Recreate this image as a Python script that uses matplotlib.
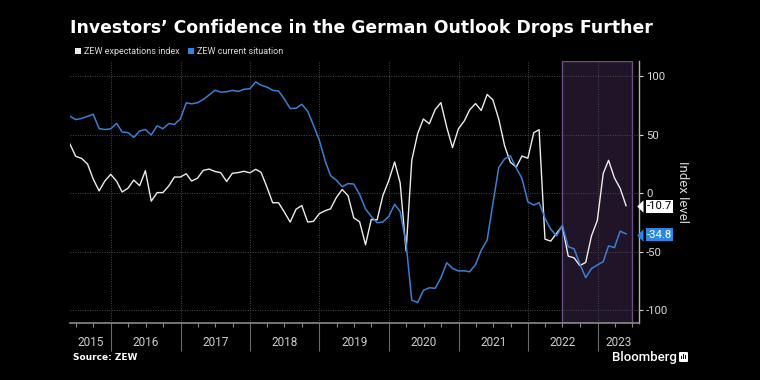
import pandas as pd
import numpy as np
import matplotlib
matplotlib.use("Agg")
import matplotlib.pyplot as plt
import matplotlib.dates as mdates
from matplotlib.path import Path
from matplotlib.patches import Patch, FancyBboxPatch, Rectangle
from matplotlib.transforms import blended_transform_factory

# ZEW Germany, monthly readings from May 2015 to May 2023
first_month = "2015-05-31"

expectations = [
    41.9, 31.5, 29.7, 25.0, 12.1, 1.9, 10.4, 16.1,
    10.2, 1.0, 4.3, 11.2, 6.4, 19.2, -6.8, 0.5, 0.5, 6.2, 13.8, 13.8,
    16.6, 10.4, 12.8, 19.5, 20.6, 18.6, 17.5, 10.0, 17.0, 17.6, 18.7, 17.4,
    20.4, 17.8, 5.1, -8.2, -8.2, -16.1, -24.7, -13.7, -10.6, -24.7, -24.1, -17.5,
    -15.0, -13.4, -3.6, 3.1, -2.1, -21.1, -24.5, -44.1, -22.5, -22.8, -2.1, 10.7,
    26.7, 8.7, -49.5, 28.2, 51.0, 63.4, 59.3, 71.5, 77.4, 56.1, 39.0, 55.0,
    61.8, 71.2, 76.6, 70.7, 84.4, 79.8, 63.3, 40.4, 26.5, 22.3, 31.7, 29.9,
    51.7, 54.3, -39.3, -41.0, -34.3, -28.0, -53.8, -55.3, -61.9, -59.2, -36.7, -23.3,
    16.9, 28.1, 13.0, 4.1, -10.7,
]

current_situation = [
    65.7, 62.9, 63.9, 65.7, 67.5, 55.2, 54.4, 55.0,
    59.7, 52.3, 51.8, 47.7, 53.1, 54.5, 49.8, 57.6, 55.1, 59.5, 58.8, 63.5,
    77.3, 76.4, 77.3, 80.1, 83.9, 88.0, 86.4, 86.7, 87.9, 87.0, 88.8, 89.3,
    95.2, 92.3, 90.7, 87.9, 87.4, 80.6, 72.4, 72.6, 76.0, 70.1, 58.2, 45.3,
    27.6, 15.0, 11.1, 5.5, 8.2, 7.8, -1.1, -13.5, -19.9, -25.3, -24.7, -19.9,
    -9.5, -15.7, -43.1, -91.5, -93.5, -83.1, -80.9, -81.3, -72.3, -59.5, -64.3, -66.5,
    -66.4, -67.2, -61.0, -48.8, -40.1, -9.1, 21.9, 29.3, 31.9, 21.6, 12.5, -7.4,
    -10.2, -8.1, -21.4, -30.8, -36.5, -27.6, -45.8, -47.6, -60.5, -72.2, -64.5, -61.4,
    -58.6, -45.1, -46.5, -32.5, -34.8,
]

series_names = ["ZEW expectations index", "ZEW current situation"]
year_labels = ["2015", "2016", "2017", "2018", "2019", "2020", "2021", "2022", "2023"]
y_ticks = [-100, -50, 0, 50, 100]
shade_start, shade_end = "2022-07-01", "2023-07-01"

WHITE = "#ececec"
BLUE = "#3b7fd2"
BLUE_BOX = "#2c86e6"
GRID = "#4a4a4a"

plt.rcParams["font.family"] = ["Roboto", "DejaVu Sans"]
plt.rcParams["axes.unicode_minus"] = False

dates = pd.date_range(first_month, periods=len(expectations), freq="ME")

fig = plt.figure(figsize=(7.6, 3.8), dpi=100, facecolor="black")
ax = fig.add_axes([70 / 760, 1 - 323 / 380, 569 / 760, 262 / 380], facecolor="black")

# shaded period
ax.axvspan(pd.Timestamp(shade_start), pd.Timestamp(shade_end),
           facecolor="#1f1428", edgecolor="#6a4f86", lw=1.0, zorder=0)

ax.plot(dates, expectations, color=WHITE, lw=1.0, zorder=3)
ax.plot(dates, current_situation, color=BLUE, lw=1.1, zorder=3)

x_left = dates[0]
x_right = pd.Timestamp("2023-08-07")
ax.set_xlim(x_left, x_right)
ax.set_ylim(-111, 113)

# grid
ax.set_yticks(y_ticks)
ax.xaxis.set_major_locator(mdates.YearLocator())
ax.xaxis.set_minor_locator(mdates.MonthLocator(bymonth=[4, 7, 10]))
ax.grid(True, which="major", color=GRID, lw=0.7, ls=(0, (1, 1.5)))

# spines / ticks
for side in ["top", "left"]:
    ax.spines[side].set_visible(False)
ax.spines["bottom"].set_color("#8a8a8a")
ax.spines["bottom"].set_linewidth(1.2)
ax.spines["right"].set_color("#b0b0b0")
ax.spines["right"].set_linewidth(1.0)

ax.yaxis.tick_right()
ax.tick_params(axis="y", which="major", colors="#d8d8d8", labelsize=8.2,
               length=3, width=0.8, pad=2)
ax.tick_params(axis="x", which="major", length=20, width=0.8, color="#6a6a6a",
               labelbottom=False)
ax.tick_params(axis="x", which="minor", length=3, width=0.8, color="#8a8a8a")

ax.yaxis.set_label_position("right")
ax.set_ylabel("Index level", color="#d8d8d8", fontsize=9.5, rotation=270)
ax.yaxis.label.set_verticalalignment("center")
ax.yaxis.set_label_coords(1.0756, 0.5)

# year labels centred on the visible part of each year
trans = blended_transform_factory(ax.transData, ax.transAxes)
for lab in year_labels:
    y0 = max(pd.Timestamp(f"{lab}-01-01"), x_left)
    y1 = min(pd.Timestamp(f"{int(lab) + 1}-01-01"), x_right)
    mid = y0 + (y1 - y0) / 2
    ax.text(mid, -0.076, lab, transform=trans, ha="center", va="center",
            color="#cfcfcf", fontsize=8.5)

# last value tags: box plus a small left-pointing notch
notch = Path([(-0.5, 0), (0, 0.5), (0, -0.5), (-0.5, 0)],
             [Path.MOVETO, Path.LINETO, Path.LINETO, Path.CLOSEPOLY])
ytrans = blended_transform_factory(ax.transAxes, ax.transData)
tags = [(expectations[-1], "white", "black"),
        (current_situation[-1], BLUE_BOX, "white")]
for val, bg, fg in tags:
    ax.text(1.0135, val - 0.6, f"{val:.1f}", transform=ytrans, ha="left", va="center",
            fontsize=8.2, color=fg, zorder=5, clip_on=False,
            bbox=dict(boxstyle="square,pad=0.1", fc=bg, ec="none"))
    ax.plot([1.0065], [val - 0.6], transform=ytrans, marker=notch, markersize=9,
            color=bg, mec="none", clip_on=False, zorder=5)

# legend
handles = [Patch(facecolor=WHITE, edgecolor="none"),
           Patch(facecolor=BLUE_BOX, edgecolor="none")]
leg = fig.legend(handles, series_names, loc="center left",
                 bbox_to_anchor=(75 / 760, 1 - 52 / 380), ncol=2, frameon=False,
                 fontsize=6.5, handlelength=0.65, handleheight=0.65,
                 handletextpad=0.3, columnspacing=1.0, borderpad=0, borderaxespad=0)
for t in leg.get_texts():
    t.set_color("#dcdcdc")

# title and footer
fig.text(70 / 760, 1 - 28 / 380, "Investors’ Confidence in the German Outlook Drops Further",
         ha="left", va="center", color="white", fontsize=12.4, fontweight="bold",
         family=["DejaVu Sans"])
fig.text(73 / 760, 1 - 358 / 380, "Source: ZEW", ha="left", va="center",
         color="white", fontsize=6.5, fontweight="bold", family=["DejaVu Sans"])
fig.text(612 / 760, 1 - 357 / 380, "Bloomberg", ha="left", va="center",
         color="white", fontsize=9.5, fontweight="medium")

# small logo square
fig.patches.append(FancyBboxPatch((679 / 760, 1 - 362 / 380), 9 / 760, 10 / 380,
                                  boxstyle="round,pad=0,rounding_size=0.002",
                                  transform=fig.transFigure, fc="white", ec="none"))
for i, h in enumerate([3, 5, 4]):
    fig.patches.append(Rectangle(((681 + i * 2) / 760, 1 - 359 / 380), 1 / 760, h / 380,
                                 transform=fig.transFigure, fc="black", ec="none"))

fig.savefig("out.png", dpi=100, facecolor="black")
